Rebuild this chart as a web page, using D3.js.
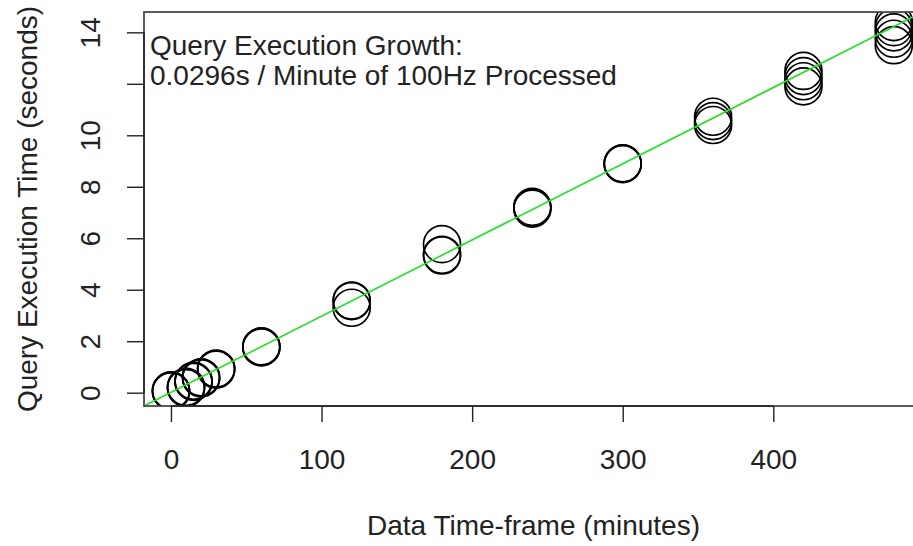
<!DOCTYPE html>
<html>
<head>
<meta charset="utf-8">
<script src="https://cdn.jsdelivr.net/npm/d3@7"></script>
<style>
  html, body { margin: 0; padding: 0; background: #ffffff; }
  svg { display: block; font-family: "Liberation Sans", Arial, Helvetica, sans-serif; }
</style>
</head>
<body>
<svg id="chart" width="913" height="546"></svg>
<script>
// Query timing runs: minutes of 100Hz data processed vs. execution time (s)
const minutes = [
  0, 0, 0,
  10, 10, 10,
  15, 15, 15,
  20, 20, 20,
  30, 30, 30,
  60, 60, 60,
  120, 120, 120,
  180, 180, 180,
  240, 240, 240,
  300, 300, 300,
  360, 360, 360,
  420, 420, 420, 420,
  480, 480, 480, 480, 480
];
const seconds = [
  0.05, 0.07, 0.09,
  0.18, 0.20, 0.23,
  0.42, 0.44, 0.46,
  0.56, 0.58, 0.60,
  0.90, 0.92, 0.94,
  1.76, 1.78, 1.80,
  3.56, 3.58, 3.30,
  5.33, 5.36, 5.77,
  7.15, 7.19, 7.22,
  8.88, 8.90, 8.91,
  10.72, 10.55, 10.40,
  12.50, 12.30, 12.10, 11.90,
  14.40, 14.20, 14.00, 13.75, 13.50
];

// Fitted trend: slope in seconds per minute, intercept in seconds
const fitSlope = 0.0296;
const fitIntercept = 0.015;

const xTicks = [0, 100, 200, 300, 400];
const yTicks = [0, 2, 4, 6, 8, 10, 12, 14];
const yTicksLabelled = [0, 2, 4, 6, 8, 10, 14];

const xTitle = "Data Time-frame (minutes)";
const yTitle = "Query Execution Time (seconds)";
const noteLines = ["Query Execution Growth:", "0.0296s / Minute of 100Hz Processed"];

// ---- layout ----
const plot = { left: 144, right: 923, top: 12, bottom: 406 };
const fontSize = 28;
const ink = "#222222";

const svg = d3.select("#chart");

const x = d3.scaleLinear().domain([-17.9, 499.4]).range([plot.left, plot.right]);
const y = d3.scaleLinear().domain([-0.517, 14.79]).range([plot.bottom, plot.top]);

svg.append("defs").append("clipPath").attr("id", "plotClip")
  .append("rect")
  .attr("x", plot.left).attr("y", plot.top)
  .attr("width", plot.right - plot.left).attr("height", plot.bottom - plot.top);

// ---- points (open circles) ----
const pts = minutes.map((m, i) => ({ m, s: seconds[i] }));
svg.append("g").attr("clip-path", "url(#plotClip)")
  .selectAll("circle").data(pts).join("circle")
  .attr("cx", d => x(d.m))
  .attr("cy", d => y(d.s))
  .attr("r", 18.5)
  .attr("fill", "none")
  .attr("stroke", "#000")
  .attr("stroke-width", 1.7);

// ---- fitted line ----
const xd = x.domain();
svg.append("g").attr("clip-path", "url(#plotClip)")
  .append("line")
  .attr("x1", x(xd[0])).attr("y1", y(fitIntercept + fitSlope * xd[0]))
  .attr("x2", x(xd[1])).attr("y2", y(fitIntercept + fitSlope * xd[1]))
  .attr("stroke", "#22e022")
  .attr("stroke-width", 1.6);

// ---- plot frame ----
svg.append("rect")
  .attr("x", plot.left).attr("y", plot.top)
  .attr("width", plot.right - plot.left).attr("height", plot.bottom - plot.top)
  .attr("fill", "none").attr("stroke", "#4a4a4a").attr("stroke-width", 1.8);

// ---- x axis ----
const gx = svg.append("g")
  .attr("transform", `translate(0,${plot.bottom})`)
  .call(d3.axisBottom(x).tickValues(xTicks).tickSize(16).tickSizeOuter(0).tickFormat(d3.format("d")));
gx.select(".domain").remove();
gx.append("line")
  .attr("x1", x(xTicks[0])).attr("x2", x(xTicks[xTicks.length - 1]))
  .attr("y1", 0).attr("y2", 0)
  .attr("stroke", ink).attr("stroke-width", 1.4);
gx.selectAll(".tick line").attr("stroke", ink).attr("stroke-width", 1.4);
gx.selectAll(".tick text")
  .attr("y", 63).attr("dy", null)
  .attr("fill", ink)
  .style("font-size", fontSize + "px")
  .style("font-family", "Liberation Sans, Arial, sans-serif");

// ---- y axis ----
const gy = svg.append("g")
  .attr("transform", `translate(${plot.left},0)`)
  .call(d3.axisLeft(y).tickValues(yTicks).tickSize(17).tickSizeOuter(0)
    .tickFormat(d => yTicksLabelled.includes(d) ? String(d) : ""));
gy.select(".domain").remove();
gy.append("line")
  .attr("x1", 0).attr("x2", 0)
  .attr("y1", y(yTicks[0])).attr("y2", y(yTicks[yTicks.length - 1]))
  .attr("stroke", ink).attr("stroke-width", 1.4);
gy.selectAll(".tick line").attr("stroke", ink).attr("stroke-width", 1.4);
gy.selectAll(".tick text")
  .attr("x", null).attr("dy", null)
  .attr("transform", "translate(-44,0) rotate(-90)")
  .attr("text-anchor", "middle")
  .attr("fill", ink)
  .style("font-size", fontSize + "px")
  .style("font-family", "Liberation Sans, Arial, sans-serif");
gy.selectAll(".tick text").filter(function () { return this.textContent === ""; }).remove();

// ---- axis titles ----
svg.append("text")
  .attr("x", (plot.left + plot.right) / 2).attr("y", 535)
  .attr("text-anchor", "middle")
  .attr("fill", ink)
  .style("font-size", fontSize + "px")
  .text(xTitle);

svg.append("text")
  .attr("transform", `translate(37,${(plot.top + plot.bottom) / 2}) rotate(-90)`)
  .attr("text-anchor", "middle")
  .attr("fill", ink)
  .style("font-size", fontSize + "px")
  .text(yTitle);

// ---- annotation ----
svg.append("g").selectAll("text").data(noteLines).join("text")
  .attr("x", 150)
  .attr("y", (d, i) => 55 + i * 30)
  .attr("fill", ink)
  .style("font-size", fontSize + "px")
  .text(d => d);
</script>
</body>
</html>
